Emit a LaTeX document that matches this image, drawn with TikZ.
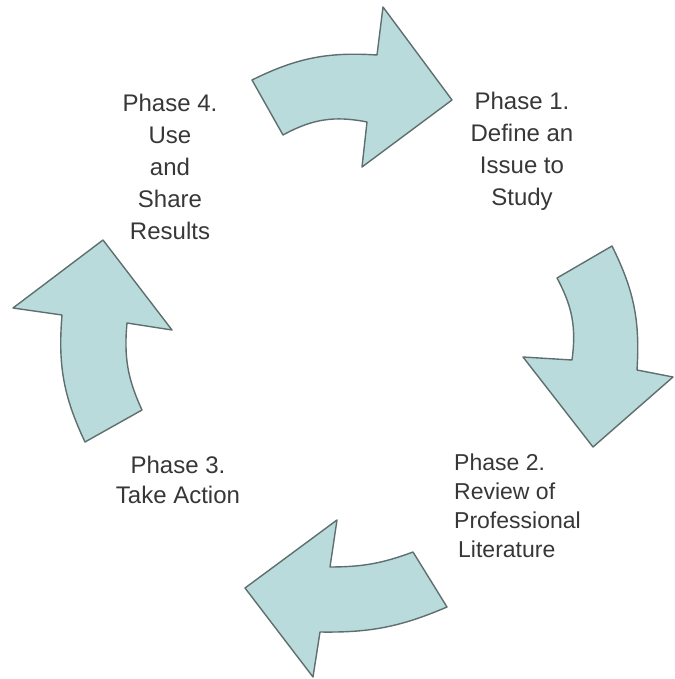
\documentclass[tikz,border=0pt]{standalone}
\usepackage{fontspec}
\setmainfont{Liberation Sans}
\definecolor{arrowfill}{RGB}{185,219,220}
\definecolor{arrowline}{RGB}{95,110,110}
\definecolor{textgray}{RGB}{55,55,55}
\tikzset{
  bigarrow/.style={fill=arrowfill, draw=arrowline, line width=1.4pt, line join=round},
  phase/.style={text=textgray, align=center, inner sep=0pt},
}
\begin{document}
\begin{tikzpicture}[x=1pt, y=-1pt]
                \useasboundingbox (0,0) rectangle (674,679);

                \node[phase, font=\fontsize{24}{32}\selectfont] (p1) at (522,151) {Phase 1.\\Define an\\Issue to\\Study};
                \node[phase, font=\fontsize{23}{29}\selectfont, align=left, anchor=west] (p2) at (454,506) {Phase 2.\\Review of\\Professional\\\hspace{4pt}Literature};
                \node[phase, font=\fontsize{24}{30}\selectfont] (p3) at (178,480) {Phase 3.\\Take Action};
                \node[phase, font=\fontsize{24}{32}\selectfont] (p4) at (170,167) {Phase 4.\\Use\\and\\Share\\Results};

                \draw[bigarrow] (252,80) to[bend left=15] (377,55) -- (383,7) -- (452,100) -- (362,167) -- (367,122) to[bend right=20] (283,135) -- cycle;
                \draw[bigarrow] (557,278) to[bend left=18] (572,360) -- (523,357) -- (593,447) -- (673,377) -- (637,370) to[bend right=15] (612,246) -- cycle;
                \draw[bigarrow] (413,552) to[bend left=10] (330,567) -- (337,520) -- (245,588) -- (313,677) -- (320,632) to[bend right=12] (447,607) -- cycle;
                \draw[bigarrow] (85,442) to[bend left=15] (62,315) -- (13,308) -- (103,240) -- (172,330) -- (127,323) to[bend right=15] (142,410) -- cycle;
            \end{tikzpicture}
\end{document}
